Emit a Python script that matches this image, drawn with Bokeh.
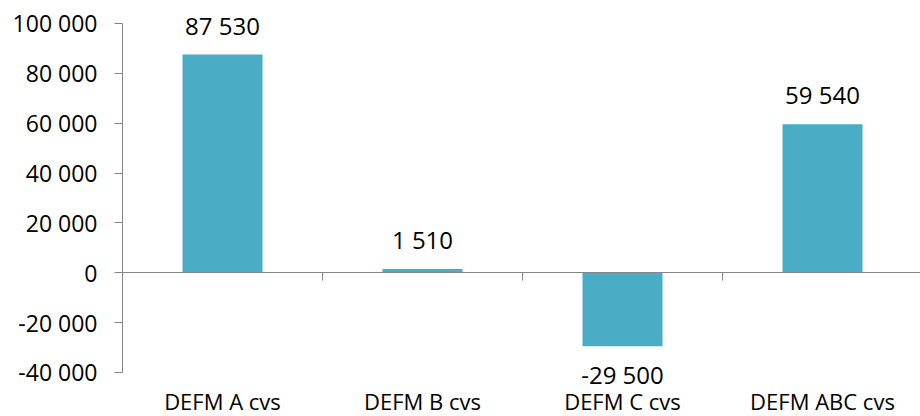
from bokeh.plotting import figure
from bokeh.models import (ColumnDataSource, FixedTicker, LinearAxis, LabelSet,
                          Range1d)
from bokeh.core.properties import value
from bokeh.embed import file_html
from bokeh.resources import INLINE

categories = ["DEFM A cvs", "DEFM B cvs", "DEFM C cvs", "DEFM ABC cvs"]
values = [87530, 1510, -29500, 59540]
y_ticks = [-40000, -20000, 0, 20000, 40000, 60000, 80000, 100000]
y_tick_labels = ["-40 000", "-20 000", "0", "20 000", "40 000", "60 000", "80 000", "100 000"]

BAR = "#4BACC6"
AXIS = "#868686"
FONT = "Open Sans"

xs = [i + 0.5 for i in range(len(categories))]
labels = [f"{v:,}".replace(",", " ") for v in values]
offsets = [20 if v >= 0 else -38 for v in values]

src = ColumnDataSource(dict(x=xs, top=values, label=labels, off=offsets))

p = figure(width=920, height=416, output_backend="svg", toolbar_location=None,
           x_range=Range1d(0, 3.99), y_range=Range1d(-57650, 106000),
           min_border_left=122, min_border_right=0, min_border_top=8,
           min_border_bottom=0, x_axis_location=None)
p.outline_line_color = None
p.grid.visible = False
p.background_fill_color = "white"

p.vbar(x="x", top="top", bottom=0, width=0.4, source=src,
       fill_color=BAR, line_color=None)

# y axis
ya = p.yaxis[0]
ya.ticker = FixedTicker(ticks=y_ticks)
ya.major_label_overrides = {t: l for t, l in zip(y_ticks, y_tick_labels)}
ya.bounds = (y_ticks[0], y_ticks[-1])
ya.minor_tick_line_color = None
ya.major_tick_in = 0
ya.major_tick_out = 8
ya.axis_line_color = AXIS
ya.major_tick_line_color = AXIS
ya.major_label_text_font = FONT
ya.major_label_text_font_size = "23px"
ya.major_label_text_color = "black"
ya.major_label_standoff = 17

# zero line with category boundary ticks
bounds_ticks = list(range(1, len(categories)))
za = LinearAxis(fixed_location=0, ticker=FixedTicker(ticks=bounds_ticks))
za.major_label_overrides = {t: "" for t in bounds_ticks}
za.major_tick_in = 0
za.major_tick_out = 8
za.minor_tick_line_color = None
za.axis_line_color = AXIS
za.major_tick_line_color = AXIS
p.add_layout(za, "below")

# category labels
ca = LinearAxis(fixed_location=y_ticks[0], ticker=FixedTicker(ticks=xs))
ca.major_label_overrides = {x: c for x, c in zip(xs, categories)}
ca.axis_line_color = None
ca.major_tick_line_color = None
ca.minor_tick_line_color = None
ca.major_tick_out = 0
ca.major_tick_in = 0
ca.major_label_text_font = FONT
ca.major_label_text_font_size = "22px"
ca.major_label_text_color = "black"
ca.major_label_standoff = 14
p.add_layout(ca, "below")

ls = LabelSet(x="x", y="top", text="label", y_offset="off", source=src,
              text_align="center", text_baseline="alphabetic",
              text_font=value(FONT), text_font_size="24px", text_color="black")
p.add_layout(ls)

open("out.html", "w").write(file_html(p, INLINE))
